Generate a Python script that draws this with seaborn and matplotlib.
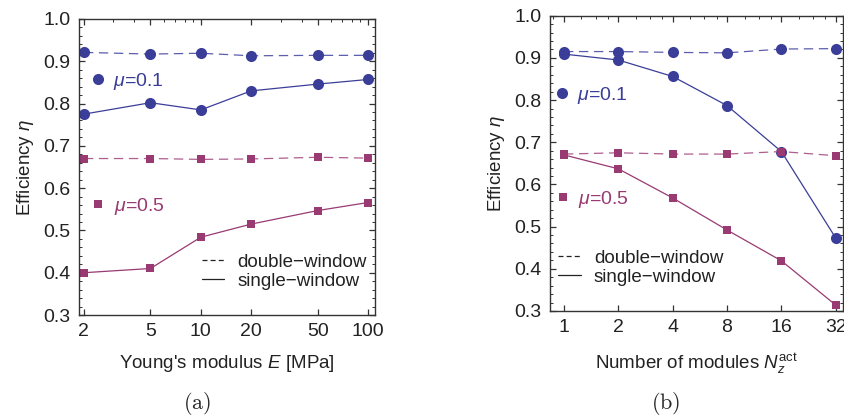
import numpy as np
import pandas as pd
import matplotlib
matplotlib.use("Agg")
import matplotlib.pyplot as plt
import matplotlib.ticker as mticker
from matplotlib.lines import Line2D
import seaborn as sns

# ---------------- data ----------------
E_mpa = [2, 5, 10, 20, 50, 100]
a_mu01_double = [0.921, 0.917, 0.919, 0.913, 0.914, 0.914]
a_mu01_single = [0.775, 0.802, 0.785, 0.830, 0.846, 0.857]
a_mu05_double = [0.670, 0.670, 0.668, 0.669, 0.673, 0.671]
a_mu05_single = [0.400, 0.410, 0.484, 0.515, 0.547, 0.566]

N_modules = [1, 2, 4, 8, 16, 32]
b_mu01_double = [0.915, 0.915, 0.913, 0.912, 0.921, 0.922]
b_mu01_single = [0.909, 0.895, 0.856, 0.787, 0.678, 0.473]
b_mu05_double = [0.672, 0.675, 0.672, 0.672, 0.678, 0.668]
b_mu05_single = [0.670, 0.637, 0.568, 0.492, 0.419, 0.314]

y_ticks = [0.3, 0.4, 0.5, 0.6, 0.7, 0.8, 0.9, 1.0]
a_xticks = [2, 5, 10, 20, 50, 100]
b_xticks = [1, 2, 4, 8, 16, 32]

# ---------------- style ----------------
sns.set_theme(style="white")
plt.rcParams["font.family"] = ["Liberation Sans", "DejaVu Sans"]
plt.rcParams["mathtext.fontset"] = "custom"
plt.rcParams["mathtext.rm"] = "Liberation Sans"
plt.rcParams["mathtext.it"] = "Liberation Sans:italic"
plt.rcParams["mathtext.bf"] = "Liberation Sans:bold"

BLUE = "#3a3e98"
BLUE_LIGHT = "#5a5eac"
PURPLE = "#993a73"
PURPLE_LIGHT = "#ad5e8d"
SPINE = "#333333"
FS = 13.5

fig = plt.figure(figsize=(8.45, 4.19), dpi=100)
axA = fig.add_axes([0.0935, 0.2482, 0.3503, 0.7065])
axB = fig.add_axes([0.6509, 0.2578, 0.3467, 0.7047])


def draw_series(ax, x, y, color, marker, ms, dashed, light=None):
    df = pd.DataFrame({"x": x, "y": y})
    kw = dict(color=color, marker=marker, markersize=ms, markeredgewidth=0,
              linewidth=0.9, sort=False, ax=ax, legend=False)
    if dashed:
        kw["linestyle"] = (0, (7.5, 4.5))
    sns.lineplot(data=df, x="x", y="y", **kw)
    if dashed and light is not None:
        ln = ax.lines[-1]
        ln.set_color(light)
        ln.set_markerfacecolor(color)
        ln.set_markeredgecolor(color)


def style_axes(ax, xticks, base, xlim):
    ax.set_xscale("log", base=base)
    ax.set_xlim(*xlim)
    ax.set_ylim(0.3, 1.0)
    ax.set_xticks(xticks)
    ax.xaxis.set_major_formatter(mticker.FixedFormatter([str(t) for t in xticks]))
    ax.set_yticks(y_ticks)
    ax.set_yticklabels([f"{t:.1f}" for t in y_ticks])
    ax.yaxis.set_minor_locator(mticker.MultipleLocator(0.02))
    if base == 10:
        ax.xaxis.set_minor_locator(mticker.LogLocator(base=10, subs=np.arange(2, 10) / 1.0, numticks=20))
    else:
        ax.xaxis.set_minor_locator(mticker.LogLocator(base=2, subs=[1.25, 1.5, 1.75], numticks=20))
    ax.xaxis.set_minor_formatter(mticker.NullFormatter())
    ax.tick_params(which="major", direction="in", length=4, width=0.9,
                   top=True, right=True, bottom=True, left=True,
                   labelsize=FS + 0.5, colors=SPINE, labelcolor="#222222", pad=6)
    ax.tick_params(which="minor", direction="in", length=2.2, width=0.7,
                   top=True, right=True, left=True, bottom=False, colors=SPINE)
    for s in ax.spines.values():
        s.set_color(SPINE)
        s.set_linewidth(1.0)
    ax.set_facecolor("white")


# ---- panel (a) ----
draw_series(axA, E_mpa, a_mu01_double, BLUE, "o", 8, True, BLUE_LIGHT)
draw_series(axA, E_mpa, a_mu01_single, BLUE, "o", 8, False)
draw_series(axA, E_mpa, a_mu05_double, PURPLE, "s", 6, True, PURPLE_LIGHT)
draw_series(axA, E_mpa, a_mu05_single, PURPLE, "s", 6, False)
style_axes(axA, a_xticks, 10, (1.87, 110))
axA.set_xlabel("Young's modulus $E$ [MPa]", fontsize=FS, color="#222222", labelpad=9)
axA.set_ylabel(r"Efficiency $\eta$", fontsize=FS, color="#222222", labelpad=5)

# ---- panel (b) ----
draw_series(axB, N_modules, b_mu01_double, BLUE, "o", 8, True, BLUE_LIGHT)
draw_series(axB, N_modules, b_mu01_single, BLUE, "o", 8, False)
draw_series(axB, N_modules, b_mu05_double, PURPLE, "s", 6, True, PURPLE_LIGHT)
draw_series(axB, N_modules, b_mu05_single, PURPLE, "s", 6, False)
style_axes(axB, b_xticks, 2, (0.837, 35.1))
axB.set_xlabel(r"Number of modules $N_z^{\mathrm{act}}$", fontsize=FS, color="#222222", labelpad=11)
axB.set_ylabel(r"Efficiency $\eta$", fontsize=FS, color="#222222", labelpad=5)


def add_legends(ax, mu01_pos, mu05_pos, ls_pos, ms_c, ms_s):
    h1 = [Line2D([], [], color=BLUE, marker="o", markersize=ms_c, markeredgewidth=0, linestyle="none")]
    l1 = ax.legend(h1, [r"$\mu$=0.1"], loc="center left", bbox_to_anchor=mu01_pos,
                   frameon=False, handlelength=0.6, handletextpad=0.5, borderpad=0,
                   borderaxespad=0, fontsize=FS + 0.5, labelcolor=BLUE)
    ax.add_artist(l1)
    h2 = [Line2D([], [], color=PURPLE, marker="s", markersize=ms_s, markeredgewidth=0, linestyle="none")]
    l2 = ax.legend(h2, [r"$\mu$=0.5"], loc="center left", bbox_to_anchor=mu05_pos,
                   frameon=False, handlelength=0.6, handletextpad=0.5, borderpad=0,
                   borderaxespad=0, fontsize=FS + 0.5, labelcolor=PURPLE)
    ax.add_artist(l2)
    h3 = [Line2D([], [], color="#222222", linewidth=0.9, linestyle=(0, (4, 2.5))),
          Line2D([], [], color="#222222", linewidth=0.9, linestyle="-")]
    ax.legend(h3, ["double−window", "single−window"], loc="center left", bbox_to_anchor=ls_pos,
              frameon=False, handlelength=1.2, handletextpad=0.7, labelspacing=0.1,
              borderpad=0, borderaxespad=0, fontsize=FS, labelcolor="#222222")


add_legends(axA, (0.043, 0.79), (0.046, 0.366), (0.415, 0.147), 8, 6)
add_legends(axB, (0.020, 0.730), (0.023, 0.379), (0.028, 0.146), 8, 6)

fig.text(0.2331, 0.038, r"$\mathrm{(a)}$", ha="center", va="center", fontsize=16, math_fontfamily="cm")
fig.text(0.7878, 0.038, r"$\mathrm{(b)}$", ha="center", va="center", fontsize=16, math_fontfamily="cm")

fig.savefig("out.png", dpi=100, facecolor="white")
